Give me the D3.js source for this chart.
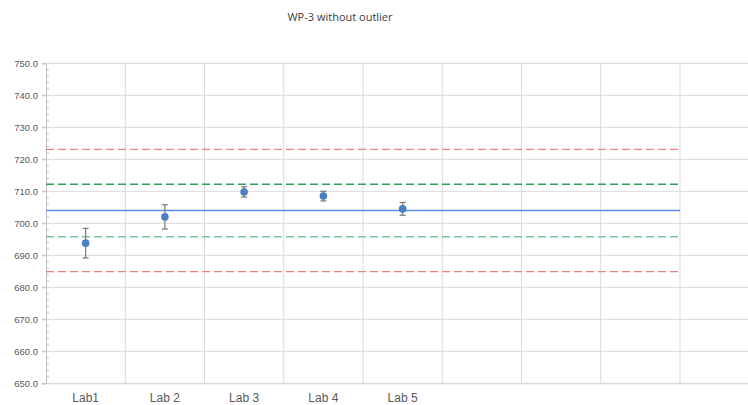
<!DOCTYPE html>
<html>
<head>
<meta charset="utf-8">
<script src="https://cdn.jsdelivr.net/npm/d3@7"></script>
<style>
  body { margin: 0; background: #fff; }
  svg { display: block; font-family: "Open Sans", sans-serif; }
</style>
</head>
<body>
<div id="chart"></div>
<script>
// data
const labs = ["Lab1", "Lab 2", "Lab 3", "Lab 4", "Lab 5"];
const means = [693.8, 702.0, 709.8, 708.5, 704.5];
const errors = [4.6, 3.8, 1.6, 1.5, 2.0];
const yTicks = [650, 660, 670, 680, 690, 700, 710, 720, 730, 740, 750];
const refValues = [723.1, 712.2, 704.0, 695.8, 684.9];
const chartTitle = "WP-3 without outlier";

const width = 748, height = 405;
const margin = {top: 63.3, left: 46, bottom: 21.7};

// 9 category slots, only the first five are labelled
const slots = d3.range(9);
const slotLabel = i => labs[i] || "";

const svg = d3.select("#chart").append("svg")
    .attr("width", width)
    .attr("height", height);

const x = d3.scaleBand()
    .domain(slots)
    .range([margin.left, margin.left + 9 * 79.25]);

const y = d3.scaleLinear()
    .domain([650, 750])
    .range([height - margin.bottom, margin.top]);

/* gridlines */
svg.append("g")
    .selectAll("line")
    .data(yTicks)
    .join("line")
    .attr("x1", margin.left - 4)
    .attr("x2", width)
    .attr("y1", d => y(d))
    .attr("y2", d => y(d))
    .attr("stroke", "#d9d9d9")
    .attr("stroke-width", 1);

svg.append("g")
    .selectAll("line")
    .data(slots.slice(1))
    .join("line")
    .attr("x1", d => x(d))
    .attr("x2", d => x(d))
    .attr("y1", y(750))
    .attr("y2", y(650))
    .attr("stroke", "#d9d9d9")
    .attr("stroke-width", 1);

/* left axis with minor ticks */
const yAxis = d3.axisLeft(y)
    .tickValues(yTicks)
    .tickFormat(d3.format(".1f"))
    .tickSize(4)
    .tickPadding(4);

const yGroup = svg.append("g")
    .attr("transform", `translate(${margin.left},0)`)
    .call(yAxis);
yGroup.select(".domain").attr("stroke", "#bfbfbf");
yGroup.selectAll(".tick line").attr("stroke", "#bfbfbf");
yGroup.selectAll("text")
    .attr("fill", "#595959")
    .style("font-size", "9.5px");

const minor = d3.range(650, 750, 2).filter(v => v % 10 !== 0);
svg.append("g")
    .selectAll("line")
    .data(minor)
    .join("line")
    .attr("x1", margin.left)
    .attr("x2", margin.left + 3)
    .attr("y1", d => y(d))
    .attr("y2", d => y(d))
    .attr("stroke", "#bfbfbf");

/* bottom axis */
const xAxis = d3.axisBottom(x)
    .tickFormat(slotLabel)
    .tickSize(0)
    .tickPadding(10);
const xGroup = svg.append("g")
    .attr("transform", `translate(0,${y(650)})`)
    .call(xAxis);
xGroup.select(".domain").attr("stroke", "#d9d9d9");
xGroup.selectAll("text")
    .attr("fill", "#595959")
    .style("font-size", "12px");

/* reference lines */
const refColors = ["#f07f7f", "#2e9e5a", "#5b8cf0", "#7fc39b", "#f07f7f"];
const refDash = ["8,4", "8,4", null, "8,4", "8,4"];
const xStart = x(0), xEnd = x(7) + x.bandwidth();

svg.append("g")
    .selectAll("line")
    .data(refValues)
    .join("line")
    .attr("x1", xStart)
    .attr("x2", xEnd)
    .attr("y1", d => y(d))
    .attr("y2", d => y(d))
    .attr("stroke", (d, i) => refColors[i])
    .attr("stroke-width", 1.3)
    .attr("stroke-dasharray", (d, i) => refDash[i]);

/* error bars */
const pts = labs.map((l, i) => ({i, mean: means[i], err: errors[i]}));
const cx = d => x(d.i) + x.bandwidth() / 2;

const eb = svg.append("g")
    .attr("stroke", "#808080")
    .attr("stroke-width", 1.3);
eb.selectAll(".v")
    .data(pts)
    .join("line")
    .attr("x1", cx).attr("x2", cx)
    .attr("y1", d => y(d.mean + d.err))
    .attr("y2", d => y(d.mean - d.err));
eb.selectAll(".t")
    .data(pts)
    .join("line")
    .attr("x1", d => cx(d) - 3).attr("x2", d => cx(d) + 3)
    .attr("y1", d => y(d.mean + d.err))
    .attr("y2", d => y(d.mean + d.err));
eb.selectAll(".b")
    .data(pts)
    .join("line")
    .attr("x1", d => cx(d) - 3).attr("x2", d => cx(d) + 3)
    .attr("y1", d => y(d.mean - d.err))
    .attr("y2", d => y(d.mean - d.err));

/* points */
svg.append("g")
    .selectAll("circle")
    .data(pts)
    .join("circle")
    .attr("cx", cx)
    .attr("cy", d => y(d.mean))
    .attr("r", 3.8)
    .attr("fill", "#4a7fc1");

/* title */
svg.append("text")
    .attr("x", 340)
    .attr("y", 21)
    .attr("text-anchor", "middle")
    .attr("fill", "#404040")
    .style("font-size", "11px")
    .text(chartTitle);
</script>
</body>
</html>
